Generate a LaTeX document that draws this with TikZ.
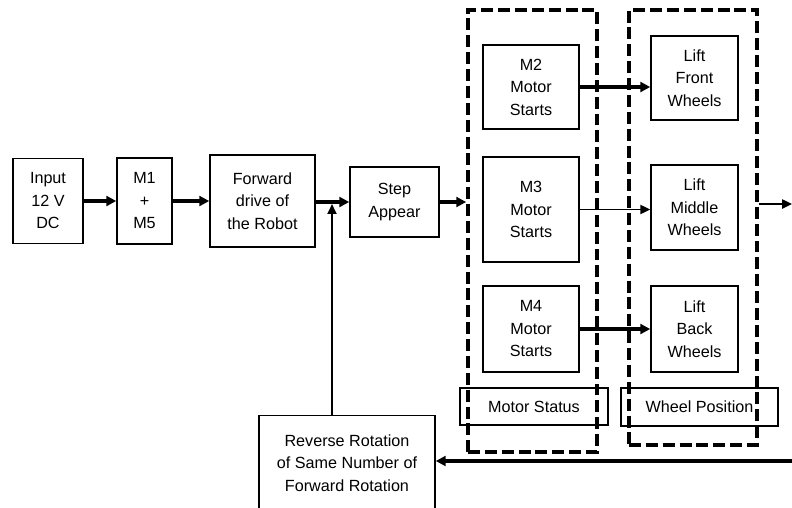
\documentclass[tikz,border=0pt]{standalone}
\usepackage{fontspec}
\setmainfont{Liberation Sans}
\usepackage{tikz}
\usetikzlibrary{arrows.meta,positioning,calc}

\begin{document}
\begin{tikzpicture}[x=0.025cm,y=-0.025cm,
  font=\fontsize{11.5}{16}\selectfont,
  blk/.style={draw,line width=1.1pt,align=center,inner sep=1pt},
  grp/.style={draw,line width=2.6pt,dash pattern=on 8.5pt off 3.5pt},
  arr/.style={-{Triangle[length=7pt,width=6.5pt]},line width=1.1pt},
  thickarr/.style={-{Triangle[length=7pt,width=7pt]},line width=2.6pt}]
\useasboundingbox (0,0) rectangle (792,508);
% main row
\node[blk,minimum width=1.75cm,minimum height=2.125cm] (inp) at (48,201) {Input\\12 V\\DC};
\node[blk,minimum width=1.375cm,minimum height=2.15cm] (m1) at (144.5,201) {M1\\+\\M5};
\node[blk,minimum width=2.625cm,minimum height=2.3cm] (fwd) at (262.5,201) {Forward\\drive of\\the Robot};
\node[blk,minimum width=2.225cm,minimum height=1.75cm] (step) at (394.5,202) {Step\\Appear};
\coordinate (jn) at (332,202);
% dashed groups
\node[grp,minimum width=3.225cm,minimum height=11.05cm] (motgrp) at (532.5,231) {};
\node[grp,minimum width=3.2cm,minimum height=10.875cm] (whlgrp) at (693,227.5) {};
% motors
\node[blk,minimum width=2.4cm,minimum height=2.1cm] (m2) at (531,87) {M2\\Motor\\Starts};
\node[blk,minimum width=2.4cm,minimum height=2.625cm] (m3) at (531,209.5) {M3\\Motor\\Starts};
\node[blk,minimum width=2.4cm,minimum height=2.15cm] (m4) at (531,329) {M4\\Motor\\Starts};
% wheels
\node[blk,minimum width=2.175cm,minimum height=2.1cm] (lf) at (694.5,78) {Lift\\Front\\Wheels};
\node[blk,minimum width=2.175cm,minimum height=2.125cm] (lm) at (694.5,207.5) {Lift\\Middle\\Wheels};
\node[blk,minimum width=2.175cm,minimum height=2.15cm] (lb) at (694.5,329) {Lift\\Back\\Wheels};
\node[blk,minimum width=3.7cm,minimum height=0.925cm] (mstat) at (534,406.5) {Motor Status};
\node[blk,minimum width=3.925cm,minimum height=0.95cm] (wpos) at (699.5,407) {Wheel Position};
% feedback
\node[blk,minimum width=4.4cm,minimum height=2.375cm] (rev) at (347,463) {Reverse Rotation\\of Same Number of\\Forward Rotation};
\coordinate (outR) at (792,204);
\coordinate (fbR) at (792,461);

\draw[thickarr] (inp) -- (m1);
\draw[thickarr] (m1) -- (fwd);
\draw[thickarr] (fwd.east |- jn) -- (step.west);
\draw[thickarr] (step.east) -- (step.east -| motgrp.west);
\draw[thickarr] (m2.east) -- (m2.east -| lf.west);
\draw[arr] (m3.east) -- (m3.east -| lm.west);
\draw[thickarr] (m4.east) -- (m4.east -| lb.west);
\draw[arr] (outR -| whlgrp.east) -- (outR);
\draw[thickarr] (fbR) -- (fbR -| rev.east);
\draw[arr] (rev.north -| jn) -- ([yshift=-1.5pt]jn);
\end{tikzpicture}
\end{document}
